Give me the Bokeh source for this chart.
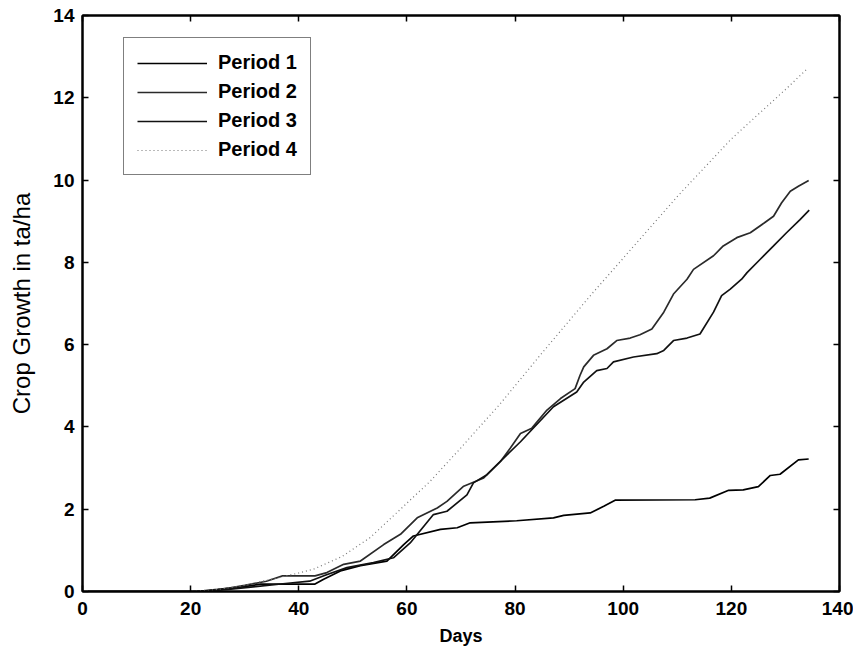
from bokeh.plotting import figure
from bokeh.models import Range1d, LinearAxis, FixedTicker, Legend, LegendItem
from bokeh.embed import file_html
from bokeh.resources import INLINE

# ---- data ----
p1_days = [1, 21, 25, 30, 33, 43, 44.6, 47.7, 51.4, 56.3, 59.4, 61.2, 66.2, 69.3, 71.7, 80.3,
           87.1, 89, 93.9, 96.4, 98.5, 113.3, 116, 119.5, 122.2, 125, 127.2, 129, 132.4, 134.3]
p1_vals = [0, 0, 0.05, 0.12, 0.18, 0.18, 0.3, 0.5, 0.63, 0.74, 1.14, 1.35, 1.51, 1.55, 1.67, 1.72,
           1.79, 1.85, 1.91, 2.07, 2.22, 2.23, 2.27, 2.46, 2.47, 2.55, 2.82, 2.85, 3.2, 3.22]

p2_days = [1, 22, 26, 30, 34, 37, 43, 45.2, 48.3, 51.4, 55.7, 58.8, 61.9, 65.6, 67.4, 70.5, 74.2,
           77.3, 79.1, 81, 83.1, 85.9, 88.4, 91.1, 92, 92.7, 94.5, 97, 98.8, 101.3, 103.1, 105.3,
           107.5, 109.3, 111.8, 113, 116.7, 118.5, 121, 123.5, 126, 127.8, 129.3, 130.9, 132.4, 134.3]
p2_vals = [0, 0, 0.06, 0.15, 0.25, 0.38, 0.38, 0.46, 0.66, 0.74, 1.14, 1.39, 1.79, 2.03, 2.19, 2.56, 2.76,
           3.16, 3.48, 3.84, 3.97, 4.41, 4.69, 4.93, 5.25, 5.46, 5.74, 5.9, 6.1, 6.16, 6.24, 6.38,
           6.79, 7.23, 7.59, 7.83, 8.16, 8.4, 8.6, 8.72, 8.95, 9.12, 9.45, 9.73, 9.85, 9.99]

p3_days = [1, 22, 27, 32, 38, 42, 45, 48.9, 53.8, 57.5, 60.6, 64.9, 67.4, 71.1, 72.3, 74.8, 78.5,
           81, 87.1, 91.4, 92.7, 95.1, 97, 98.2, 101.9, 106.2, 107.5, 109.3, 111.8, 114.2, 116.7,
           118.2, 119.8, 121.9, 122.9, 125.3, 127.8, 130.2, 132.7, 134.4]
p3_vals = [0, 0, 0.05, 0.12, 0.2, 0.25, 0.4, 0.58, 0.7, 0.82, 1.18, 1.87, 1.95, 2.35, 2.64, 2.84, 3.32,
           3.64, 4.49, 4.85, 5.09, 5.37, 5.42, 5.58, 5.7, 5.78, 5.86, 6.1, 6.16, 6.26, 6.79,
           7.19, 7.35, 7.59, 7.75, 8.07, 8.4, 8.72, 9.04, 9.27]

p4_days = [1, 20, 25, 30, 35, 40, 42.7, 48, 53.2, 58, 64.3, 69.9, 77.3, 85, 94.5, 100, 110, 120, 130, 134]
p4_vals = [0, 0, 0.05, 0.15, 0.3, 0.45, 0.54, 0.85, 1.31, 1.9, 2.68, 3.48, 4.57, 5.8, 7.28, 8.1, 9.6, 11.0, 12.2, 12.7]

series_names = ["Period 1", "Period 2", "Period 3", "Period 4"]
x_ticks = [0, 20, 40, 60, 80, 100, 120, 140]
y_ticks = [0, 2, 4, 6, 8, 10, 12, 14]

FONT = "Liberation Sans"

p = figure(width=853, height=648, output_backend="svg", toolbar_location=None,
           x_range=Range1d(0, 140), y_range=Range1d(0, 14),
           min_border_left=82, min_border_right=14, min_border_top=15, min_border_bottom=52)
p.background_fill_color = "white"
p.border_fill_color = "white"
p.outline_line_color = "black"
p.outline_line_width = 2
p.grid.visible = False

r1 = p.line(p1_days, p1_vals, line_color="black", line_width=1.7)
r2 = p.line(p2_days, p2_vals, line_color="#2a2a2a", line_width=1.7)
r3 = p.line(p3_days, p3_vals, line_color="#111111", line_width=1.7)
r4 = p.line(p4_days, p4_vals, line_color="#777777", line_width=1.2, line_dash="1 3")

def style_axis(ax, show_labels):
    ax.axis_line_color = "black"
    ax.axis_line_width = 2
    ax.major_tick_in = 6
    ax.major_tick_out = 0
    ax.minor_tick_line_color = None
    ax.major_tick_line_color = "black"
    ax.major_tick_line_width = 1.5
    if show_labels:
        ax.major_label_text_font = FONT
        ax.major_label_text_font_size = "19px"
        ax.major_label_text_font_style = "bold"
        ax.major_label_text_color = "black"
    else:
        ax.major_label_text_font_size = "0px"
        ax.major_label_text_color = None

xa = p.xaxis[0]
xa.ticker = FixedTicker(ticks=x_ticks)
style_axis(xa, True)
xa.major_label_standoff = 10
xa.axis_label = "Days"
xa.axis_label_text_font = FONT
xa.axis_label_text_font_size = "18px"
xa.axis_label_text_font_style = "bold"
xa.axis_label_text_color = "black"
xa.axis_label_standoff = 8

ya = p.yaxis[0]
ya.ticker = FixedTicker(ticks=y_ticks)
style_axis(ya, True)
ya.major_label_standoff = 8
ya.axis_label = "Crop Growth in ta/ha"
ya.axis_label_text_font = FONT
ya.axis_label_text_font_size = "24px"
ya.axis_label_text_font_style = "normal"
ya.axis_label_text_color = "black"
ya.axis_label_standoff = 15

top = LinearAxis(ticker=FixedTicker(ticks=x_ticks))
style_axis(top, False)
p.add_layout(top, "above")
right = LinearAxis(ticker=FixedTicker(ticks=y_ticks))
style_axis(right, False)
p.add_layout(right, "right")

legend = Legend(items=[LegendItem(label=n, renderers=[r]) for n, r in zip(series_names, [r1, r2, r3, r4])],
                location=(41, 416))
legend.label_text_font = FONT
legend.label_text_font_size = "20px"
legend.label_text_font_style = "bold"
legend.label_text_color = "black"
legend.glyph_width = 70
legend.glyph_height = 20
legend.label_height = 20
legend.spacing = 6
legend.padding = 13
legend.margin = 0
legend.label_standoff = 11
legend.border_line_color = "black"
legend.border_line_width = 1.5
legend.background_fill_color = "white"
legend.background_fill_alpha = 1
p.add_layout(legend, "center")

open("out.html", "w").write(file_html(p, INLINE))
